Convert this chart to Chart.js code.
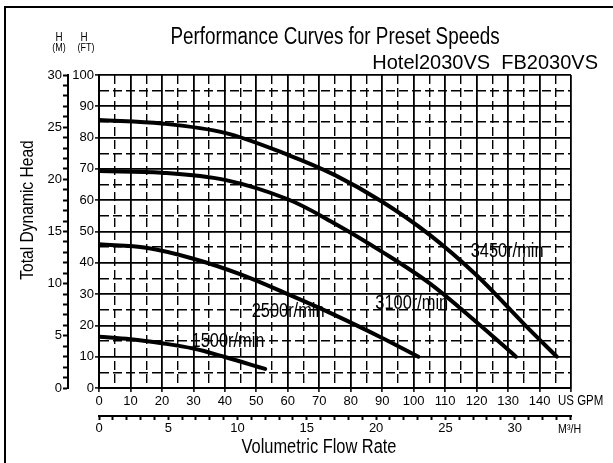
<!DOCTYPE html>
<html>
<head>
<meta charset="utf-8">
<script src="https://cdn.jsdelivr.net/npm/chart.js@4.4.1/dist/chart.umd.min.js"></script>
<style>
    html, body { margin: 0; padding: 0; background: #fff; }
</style>
</head>
<body>
<canvas id="grafico" width="613" height="463"></canvas>
<script>
    // curves: flow in US GPM, head in ft
    const flow3450 = [0, 20, 40, 60, 75, 90, 105, 120, 135, 145.5];
    const head3450 = [85.6, 84.5, 81.5, 74.5, 68, 59.5, 49, 36, 20.5, 10];

    const flow3100 = [0, 20, 40, 60, 75, 90, 105, 120, 132.5];
    const head3100 = [69.3, 68.8, 66.5, 60.3, 52.5, 43.5, 33.5, 21, 10];

    const flow2500 = [0, 15, 30, 45, 60, 75, 90, 101.5];
    const head2500 = [45.9, 44.8, 41.3, 36.3, 30, 23.3, 16, 10];

    const flow1500 = [0, 10, 20, 30, 40, 52.8];
    const head1500 = [16.4, 15.6, 14.3, 12.6, 9.9, 6.1];

    const speeds = ['3450r/min', '3100r/min', '2500r/min', '1500r/min'];

    const gpmMax = 150;
    const headMaxFt = 100;
    const headMaxM = 30;
    const m3hPerGpm = 0.2271;

    const sans = '"Liberation Sans", Arial, sans-serif';

    function pairs(xs, ys) {
        return xs.map((v, i) => ({ x: v, y: ys[i] }));
    }

    function curve(label, xs, ys) {
        return {
            label: label,
            data: pairs(xs, ys),
            borderColor: '#000',
            backgroundColor: '#000',
            borderWidth: 4,
            pointRadius: 0,
            tension: 0.35,
            borderCapStyle: 'round',
            xAxisID: 'x',
            yAxisID: 'y',
        };
    }

    const data = {
        datasets: [
            curve(speeds[0], flow3450, head3450),
            curve(speeds[1], flow3100, head3100),
            curve(speeds[2], flow2500, head2500),
            curve(speeds[3], flow1500, head1500),
        ]
    };

    // where the speed captions sit, in GPM / ft
    const speedLabelAt = [[129.7, 43.5], [99.4, 27.1], [60.1, 24.4], [41, 14.9]];

    const halfStep = ctx => ctx.tick && ctx.tick.value % 10 !== 0;

    // Arial Narrow look-alike: squeeze Liberation Sans sideways
    function narrowText(ctx, text, x, y, size, align, angle) {
        ctx.save();
        ctx.translate(x, y);
        if (angle) ctx.rotate(angle);
        ctx.scale(0.82, 1);
        ctx.font = size + 'px ' + sans;
        ctx.textAlign = align || 'center';
        ctx.textBaseline = 'middle';
        ctx.fillText(text, 0, 0);
        ctx.restore();
    }

    const paperText = {
        id: 'paperText',
        beforeDraw(chart) {
            const ctx = chart.ctx;
            ctx.save();
            ctx.fillStyle = '#fff';
            ctx.fillRect(0, 0, chart.width, chart.height);
            ctx.restore();
        },
        afterDraw(chart) {
            const ctx = chart.ctx;
            const sx = chart.scales.x;
            const sy = chart.scales.y;
            ctx.save();
            ctx.fillStyle = '#000';
            ctx.strokeStyle = '#000';

            // frame
            ctx.lineWidth = 2;
            ctx.strokeRect(5, 7, 800, 800);

            narrowText(ctx, 'Performance Curves for Preset Speeds', 335, 38, 23);

            ctx.textBaseline = 'middle';
            ctx.textAlign = 'right';
            ctx.font = '20px ' + sans;
            ctx.fillText('Hotel2030VS  FB2030VS', 598, 63);

            narrowText(ctx, 'H', 59, 38, 12);
            narrowText(ctx, 'H', 84, 38, 12);
            narrowText(ctx, '(M)', 59, 48, 11);
            narrowText(ctx, '(FT)', 86, 48, 11);

            narrowText(ctx, 'US GPM', 558, 401, 14, 'left');
            narrowText(ctx, 'M³/H', 558, 429, 13, 'left');

            narrowText(ctx, 'Volumetric Flow Rate', 319, 447, 20);
            narrowText(ctx, 'Total Dynamic Head', 28, 210, 19, 'center', -Math.PI / 2);

            speeds.forEach((s, i) => {
                narrowText(ctx, s, sx.getPixelForValue(speedLabelAt[i][0]), sy.getPixelForValue(speedLabelAt[i][1]), 20);
            });
            ctx.restore();
        }
    };

    const tickFont = { family: sans, size: 13 };

    const config = {
        type: 'line',
        data: data,
        options: {
            responsive: false,
            animation: false,
            layout: { padding: { top: 75, right: 42, bottom: 27, left: 0 } },
            plugins: {
                legend: { display: false },
                title: { display: false },
                tooltip: { enabled: false },
            },
            scales: {
                x: {
                    type: 'linear',
                    position: 'bottom',
                    weight: 0,
                    min: 0,
                    max: gpmMax,
                    ticks: {
                        stepSize: 5,
                        autoSkip: false,
                        maxRotation: 0,
                        padding: 2,
                        color: '#000',
                        font: tickFont,
                        callback: v => (v % 10 === 0 && v < gpmMax) ? v : '',
                    },
                    grid: {
                        color: '#000',
                        lineWidth: ctx => halfStep(ctx) ? 1.4 : 1.8,
                        tickLength: 4,
                        tickWidth: 1.5,
                        tickColor: ctx => halfStep(ctx) ? 'rgba(0,0,0,0)' : '#000',
                    },
                    border: { color: '#000', width: 2, dash: ctx => halfStep(ctx) ? [9, 4] : [] },
                    afterFit: s => { s.height = 28; },
                },
                x2: {
                    type: 'linear',
                    position: 'bottom',
                    weight: 1,
                    min: 0,
                    max: gpmMax * m3hPerGpm,
                    ticks: {
                        stepSize: 1,
                        includeBounds: false,
                        autoSkip: false,
                        maxRotation: 0,
                        padding: 1,
                        color: '#000',
                        font: tickFont,
                        callback: v => v % 5 === 0 ? v : '',
                    },
                    grid: { drawOnChartArea: false, tickLength: 4, tickWidth: 2, tickColor: '#000' },
                    border: { color: '#000', width: 2 },
                    afterFit: s => { s.height = 20; },
                },
                y: {
                    type: 'linear',
                    position: 'left',
                    weight: 0,
                    min: 0,
                    max: headMaxFt,
                    ticks: {
                        stepSize: 5,
                        autoSkip: false,
                        padding: 1,
                        color: '#000',
                        font: tickFont,
                        callback: v => v % 10 === 0 ? v : '',
                    },
                    grid: {
                        color: '#000',
                        lineWidth: ctx => halfStep(ctx) ? 1.4 : 1.8,
                        tickLength: 4,
                        tickWidth: 1.5,
                        tickColor: ctx => halfStep(ctx) ? 'rgba(0,0,0,0)' : '#000',
                    },
                    border: { color: '#000', width: 2, dash: ctx => halfStep(ctx) ? [9, 4] : [] },
                    afterFit: s => { s.width = 31; },
                },
                y2: {
                    type: 'linear',
                    position: 'left',
                    weight: 1,
                    min: 0,
                    max: headMaxM,
                    ticks: {
                        stepSize: 1,
                        autoSkip: false,
                        padding: 1,
                        color: '#000',
                        font: tickFont,
                        callback: v => v % 5 === 0 ? v : '',
                    },
                    grid: { drawOnChartArea: false, tickLength: 5, tickWidth: 2, tickColor: '#000' },
                    border: { color: '#000', width: 2 },
                    afterFit: s => { s.width = 68; },
                },
            }
        },
        plugins: [paperText]
    };

    const grafico = new Chart(document.getElementById('grafico'), config);
</script>
</body>
</html>
